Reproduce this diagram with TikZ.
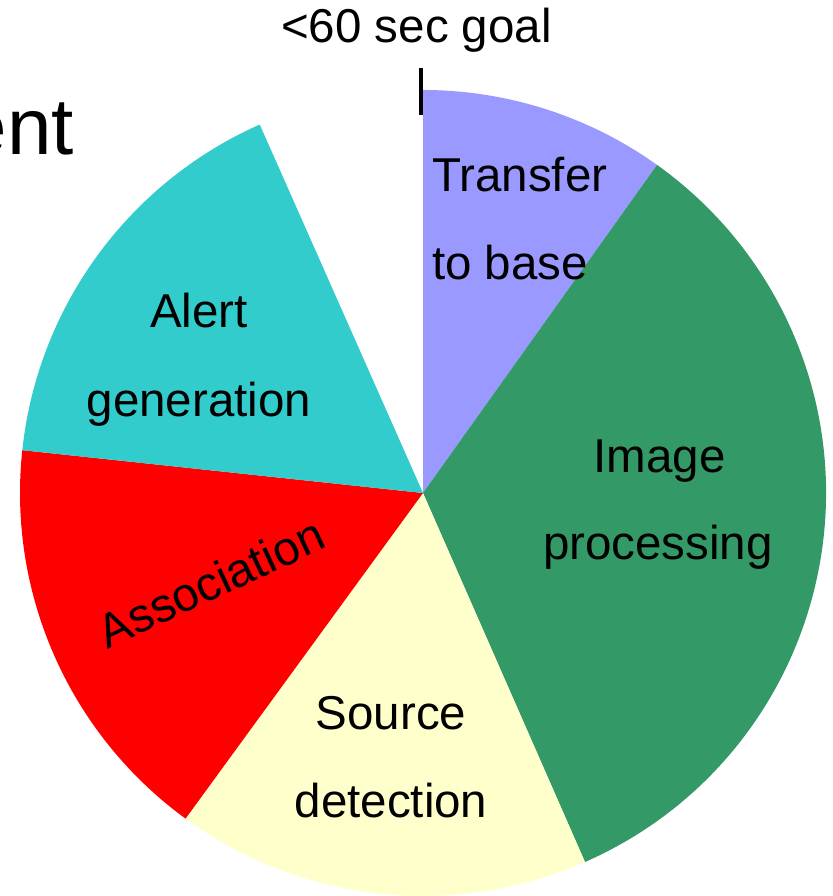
\documentclass[tikz,border=0pt]{standalone}
\usepackage{fontspec}
\setmainfont{Liberation Sans}
\definecolor{cTransfer}{HTML}{9999FF}
\definecolor{cImage}{HTML}{339966}
\definecolor{cSource}{HTML}{FFFFCC}
\definecolor{cAssoc}{HTML}{FF0000}
\definecolor{cAlert}{HTML}{33CCCC}
\begin{document}
\begin{tikzpicture}[x=1pt,y=1pt,
  lbl/.style={inner sep=0pt, font=\fontsize{47.5}{57}\selectfont},
  big/.style={inner sep=0pt, font=\fontsize{80}{96}\selectfont}]
\useasboundingbox (0,0) rectangle (832,896);
\clip (0,0) rectangle (832,896);
\fill[white] (0,0) rectangle (832,896);
\coordinate (c) at (423,403);
\def\R{403}
% wedges
\fill[cTransfer] (c) -- ++(54.5:\R) arc[start angle=54.5,end angle=90,radius=\R] -- cycle;
\fill[cImage] (c) -- ++(-66.3:\R) arc[start angle=-66.3,end angle=54.5,radius=\R] -- cycle;
\fill[cSource] (c) -- ++(-126.1:\R) arc[start angle=-126.1,end angle=-66.3,radius=\R] -- cycle;
\fill[cAssoc] (c) -- ++(173.9:\R) arc[start angle=173.9,end angle=233.9,radius=\R] -- cycle;
\fill[cAlert] (c) -- ++(113.9:\R) arc[start angle=113.9,end angle=173.9,radius=\R] -- cycle;
% title fragment
\node[big, anchor=base east] (title) at (74,741) {ent};
% goal marker
\node[lbl, anchor=base] (goal) at (416.5,853) {<60 sec goal};
\coordinate (tickTop) at (420.8,828);
\coordinate (tickBot) at (420.8,781);
\draw[line width=4.5pt] (tickTop) -- (tickBot);
% labels
\node[lbl, anchor=base west] (tr1) at (432,704) {Transfer};
\node[lbl, anchor=base west] (tr2) at (432,616) {to base};
\node[lbl, anchor=base] (im1) at (659.5,423) {Image};
\node[lbl, anchor=base] (im2) at (658,336) {processing};
\node[lbl, anchor=base] (al1) at (199,568) {Alert};
\node[lbl, anchor=base] (al2) at (199,479) {generation};
\node[lbl, anchor=base] (so1) at (391,166) {Source};
\node[lbl, anchor=base] (so2) at (391,78) {detection};
\node[lbl, anchor=base, rotate=25] (as) at (218,298) {Association};
\end{tikzpicture}
\end{document}
